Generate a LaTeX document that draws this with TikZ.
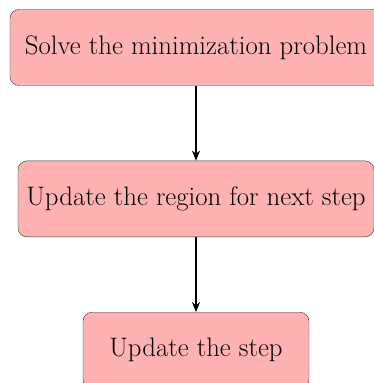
\documentclass[tikz,border=0pt]{standalone}
\usetikzlibrary{positioning,arrows.meta}
\tikzset{
  stepnode/.style={draw=black!80, fill=red!30, rounded corners=9pt, thin,
    minimum height=76pt, inner sep=8pt, font=\fontsize{26.8}{32}\selectfont},
  flow/.style={-{Stealth[length=10pt,width=8pt,inset=3pt]}, line width=1.2pt}
}
\begin{document}
\begin{tikzpicture}[x=1pt, y=1pt, line join=round]
		\useasboundingbox (0,0) rectangle (374,383);
		\node[stepnode, minimum width=372pt] (solve) at (196,335.5) {Solve the minimization problem};
		\node[stepnode, minimum width=356pt, below=75pt of solve] (region) {Update the region for next step};
		\node[stepnode, minimum width=226pt, below=75pt of region] (update) {Update the step};
		\draw[flow] (solve)--(region);
		\draw[flow] (region)--(update);
	\end{tikzpicture}
\end{document}
